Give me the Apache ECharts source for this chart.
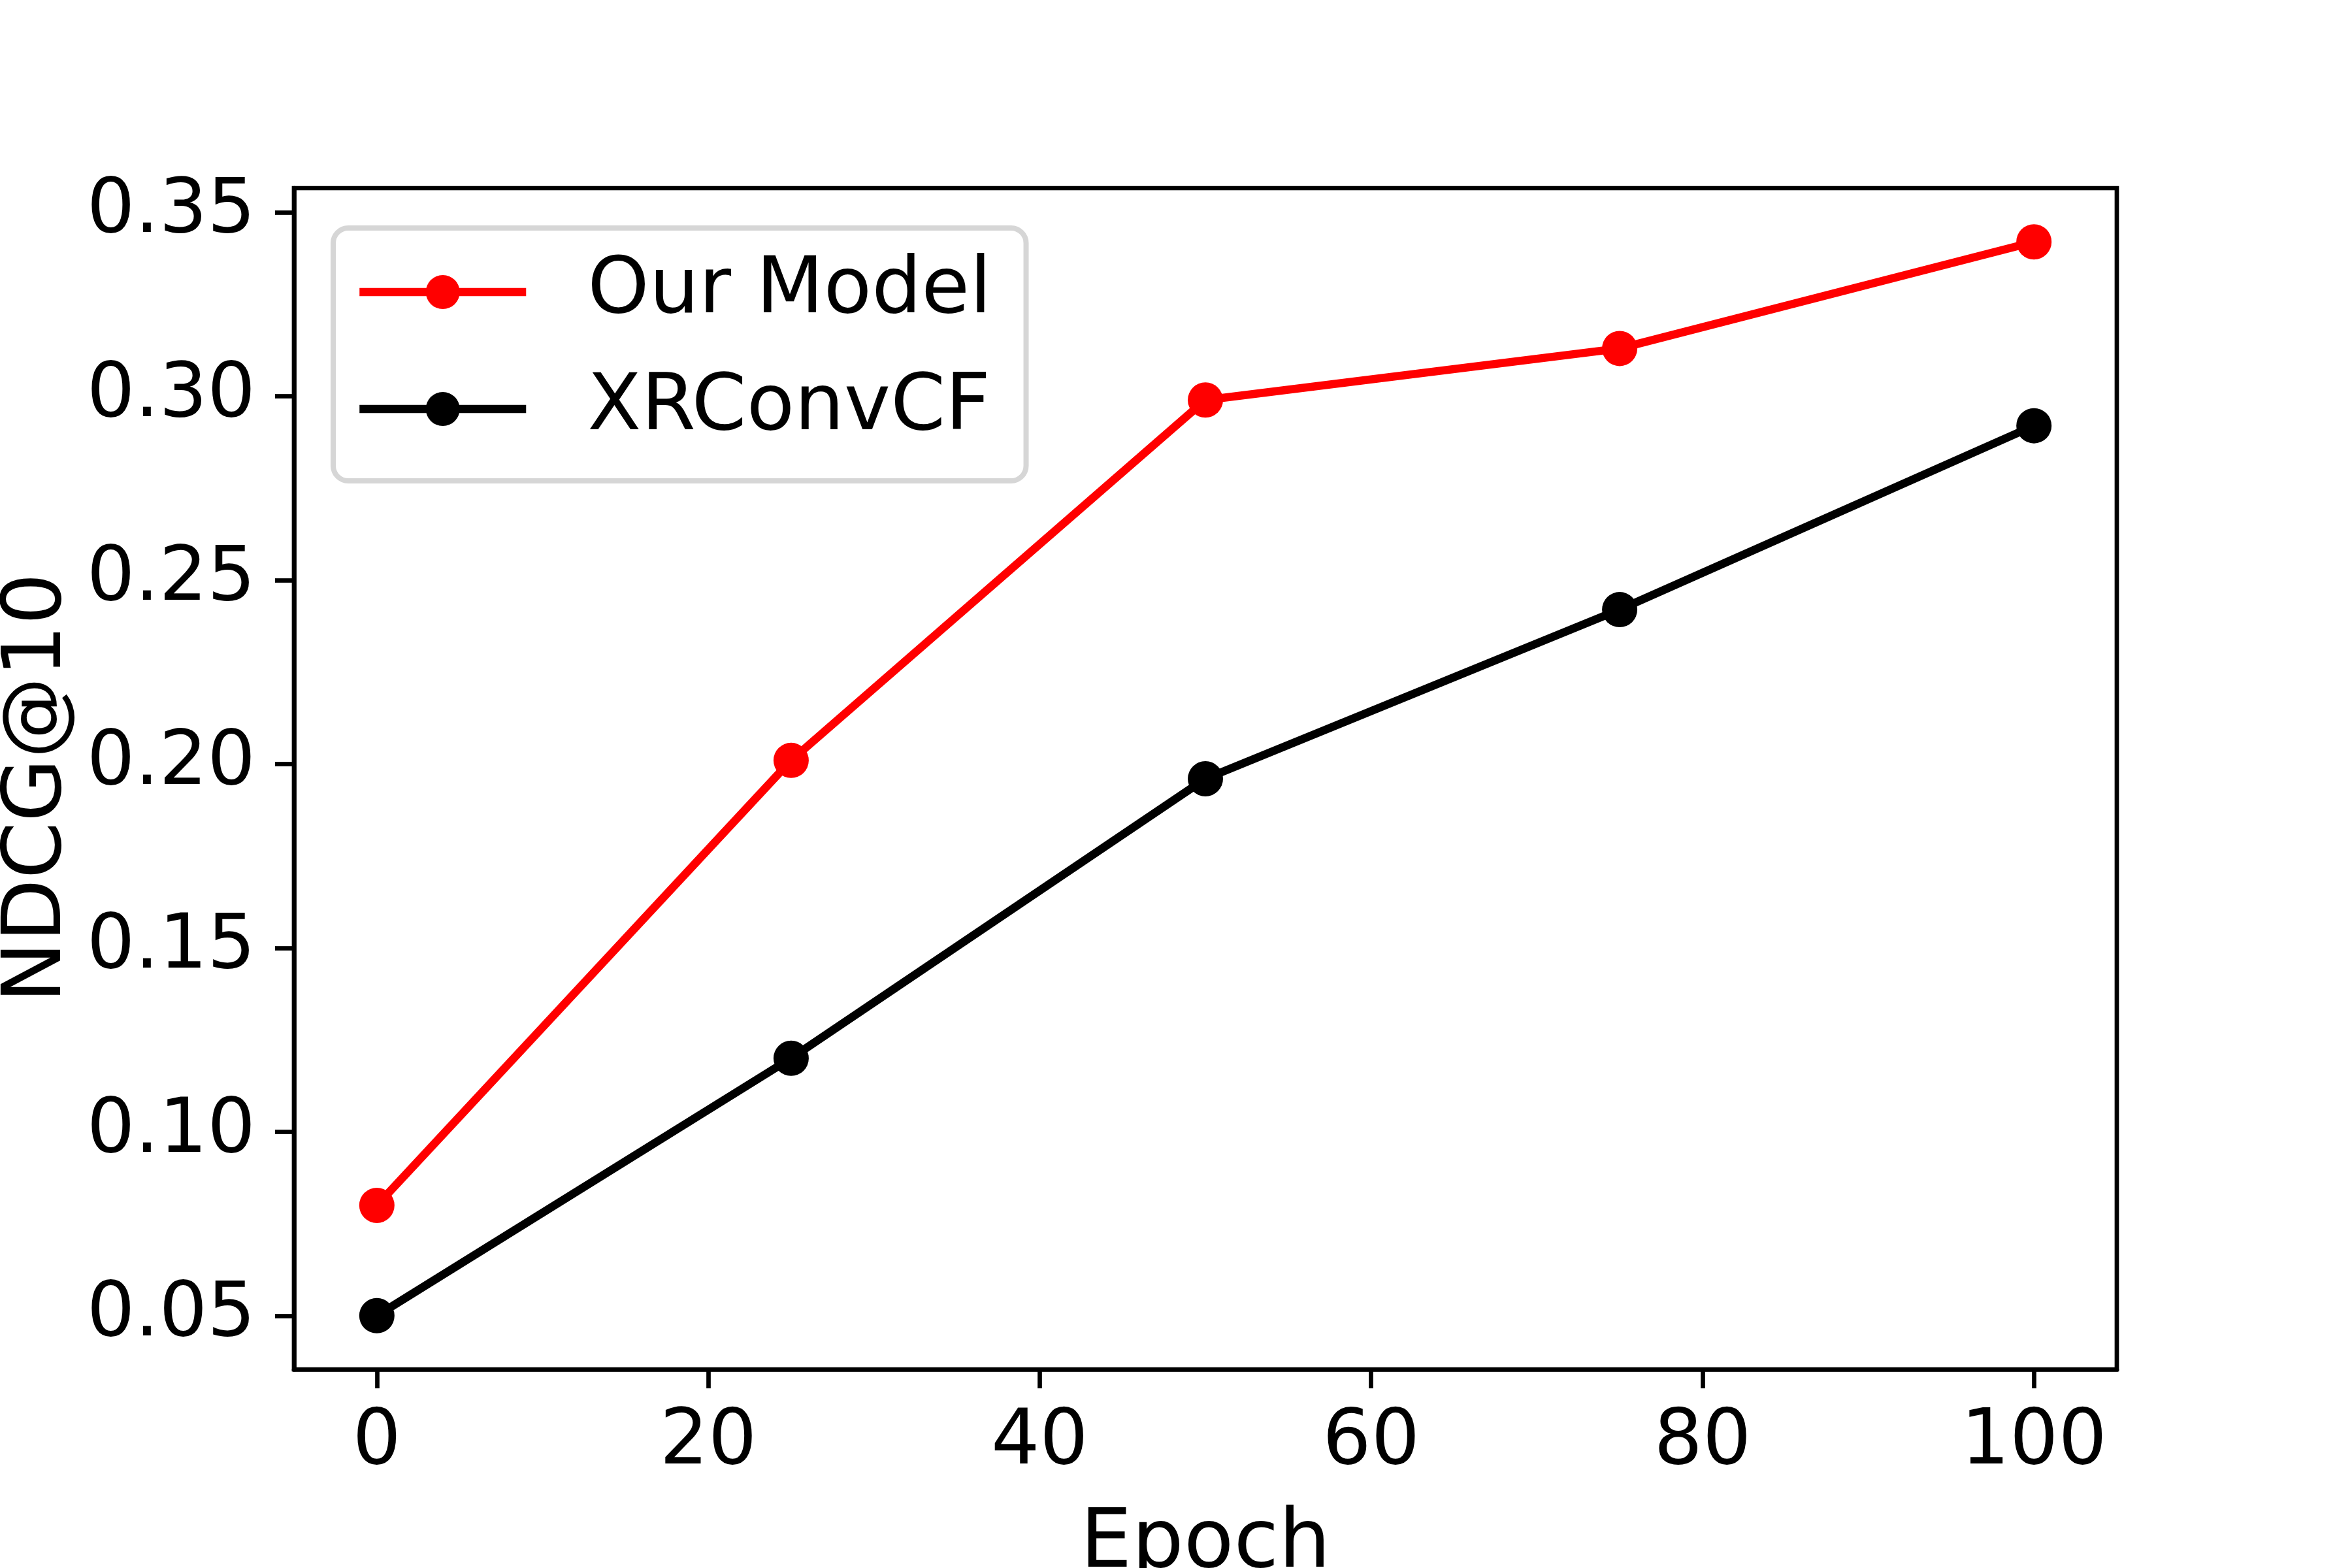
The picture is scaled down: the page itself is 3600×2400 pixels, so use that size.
<!DOCTYPE html>
<html>
<head>
<meta charset="utf-8">
<script src="https://cdn.jsdelivr.net/npm/echarts@6/dist/echarts.min.js"></script>
<style>
  html, body { margin: 0; padding: 0; background: #fff; }
  #chart { width: 3600px; height: 2400px; }
</style>
</head>
<body>
<div id="chart"></div>
<script>
// data
const epochs = [0, 25, 50, 75, 100];
const ourModel = [0.080, 0.201, 0.299, 0.313, 0.342];
const xrConvCF = [0.050, 0.120, 0.196, 0.242, 0.292];
const xTicks = [0, 20, 40, 60, 80, 100];
const yTicks = [0.05, 0.10, 0.15, 0.20, 0.25, 0.30, 0.35];

const FONT = 'DejaVu Sans';
const LW = 6.7;       // spine / tick width
const DATA_LW = 12.5; // line width

function pairs(xs, ys) {
    return xs.map((x, i) => [x, ys[i]]);
}

const chart = echarts.init(document.getElementById('chart'), null, { renderer: 'canvas' });

chart.setOption({
    animation: false,
    backgroundColor: '#ffffff',
    textStyle: { fontFamily: FONT },
    grid: {
        left: 450, right: 360, top: 288, bottom: 304,
        outerBoundsMode: 'none',
        containLabel: false,
        show: true,
        borderColor: '#000',
        borderWidth: LW,
        backgroundColor: 'transparent'
    },
    legend: {
        left: 510,
        top: 349,
        orient: 'vertical',
        padding: [38, 53, 50, 34],
        itemGap: 59,
        itemWidth: 255,
        itemHeight: 65,
        borderColor: '#d6d6d6',
        borderWidth: 8,
        borderRadius: 23,
        backgroundColor: '#fff',
        lineStyle: { width: 'inherit' },
        textStyle: {
            fontFamily: FONT,
            fontSize: 120,
            color: '#000',
            padding: [0, 0, 0, 89]
        },
        data: ['Our Model', 'XRConvCF']
    },
    xAxis: {
        type: 'value',
        min: -5,
        max: 105,
        name: 'Epoch',
        nameLocation: 'middle',
        nameGap: 207,
        nameTextStyle: { fontFamily: FONT, fontSize: 125, color: '#000' },
        splitLine: { show: false },
        axisLine: { show: true, onZero: false, lineStyle: { color: '#000', width: LW } },
        axisTick: { show: true, length: 29, customValues: xTicks, lineStyle: { color: '#000', width: LW } },
        axisLabel: {
            customValues: xTicks,
            margin: 55,
            fontFamily: FONT,
            fontSize: 117,
            color: '#000'
        }
    },
    yAxis: {
        type: 'value',
        min: 0.0354,
        max: 0.3566,
        name: 'NDCG@10',
        nameLocation: 'middle',
        nameGap: 323,
        nameTextStyle: { fontFamily: FONT, fontSize: 125, color: '#000', padding: [0, 28, 0, 0] },
        splitLine: { show: false },
        axisLine: { show: true, onZero: false, lineStyle: { color: '#000', width: LW } },
        axisTick: { show: true, length: 29, customValues: yTicks, lineStyle: { color: '#000', width: LW } },
        axisLabel: {
            customValues: yTicks,
            margin: 59,
            fontFamily: FONT,
            fontSize: 116,
            color: '#000',
            formatter: v => v.toFixed(2)
        }
    },
    series: [
        {
            name: 'Our Model',
            type: 'line',
            data: pairs(epochs, ourModel),
            symbol: 'circle',
            symbolSize: 54,
            color: '#ff0000',
            lineStyle: { color: '#ff0000', width: DATA_LW },
            itemStyle: { color: '#ff0000' }
        },
        {
            name: 'XRConvCF',
            type: 'line',
            data: pairs(epochs, xrConvCF),
            symbol: 'circle',
            symbolSize: 54,
            color: '#000000',
            lineStyle: { color: '#000000', width: DATA_LW },
            itemStyle: { color: '#000000' }
        }
    ]
});
</script>
</body>
</html>
